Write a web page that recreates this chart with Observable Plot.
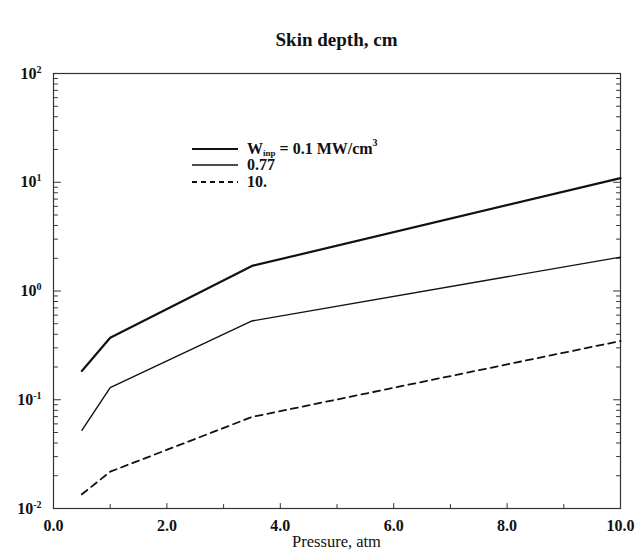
<!DOCTYPE html>
<html><head><meta charset="utf-8">
<script src="https://cdn.jsdelivr.net/npm/d3@7"></script>
<script src="https://cdn.jsdelivr.net/npm/@observablehq/plot@0.6"></script>
<style>
body{margin:0;background:#fff;width:641px;height:553px;overflow:hidden}
#title{height:56px;box-sizing:border-box;padding-top:29px;padding-left:32px;text-align:center;font:bold 19px "Liberation Serif",serif;line-height:22px;color:#111}
</style></head>
<body>
<div id="title">Skin depth, cm</div>
<div id="chart"></div>
<script>
// Data
const pressure = [0.5, 1.0, 3.5, 10];
const depth01  = [0.184, 0.372, 1.70, 10.9];   // W_inp = 0.1 MW/cm^3
const depth077 = [0.0524, 0.129, 0.53, 2.05];  // 0.77
const depth10  = [0.0135, 0.0218, 0.0694, 0.347]; // 10.
const seriesLabels = ["0.1", "0.77", "10."];
const yTicks = [0.01, 0.1, 1, 10, 100];
const yExponents = ["-2", "-1", "0", "1", "2"];
const xTicks = [0, 2, 4, 6, 8, 10];
const xMinorTicks = [1, 3, 5, 7, 9];
const yMinorTicks = [];
for (let e = -2; e < 2; e++) for (let m = 2; m < 10; m++) yMinorTicks.push(+(m * Math.pow(10, e)).toPrecision(3));

const ink = "#111";
const tk = "#333";
const tickShape = {draw(context, l) { context.moveTo(0, 0); context.lineTo(0, -l); }};
const inTicksY = (vals, len, side) => Plot.vector(vals, {
  y: d => d, frameAnchor: side, rotate: side === "left" ? 90 : -90,
  length: len, anchor: "start", shape: tickShape, stroke: tk, strokeWidth: 1
});
const inTicksX = (vals, len) => Plot.vector(vals, {
  x: d => d, frameAnchor: "bottom", rotate: 0,
  length: len, anchor: "start", shape: tickShape, stroke: tk, strokeWidth: 1
});

const plot = Plot.plot({
  width: 641, height: 497,
  marginTop: 17, marginLeft: 53, marginRight: 21, marginBottom: 45,
  style: {fontFamily: '"Liberation Serif", serif', fontSize: "16px", fontWeight: "bold", background: "white", color: ink},
  x: {domain: [0, 10]},
  y: {type: "log", domain: [0.01, 100]},
  marks: [
    Plot.frame({stroke: "#333", strokeWidth: 1.2}),
    Plot.axisY(yTicks, {anchor: "left", tickSize: 0, tickPadding: 12, fontSize: 16, tickFormat: d => "10|" + yExponents[yTicks.indexOf(d)], label: null}),
    Plot.axisX(xTicks, {anchor: "bottom", tickSize: 0, tickPadding: 11, fontSize: 16, tickFormat: d3.format(".1f"), label: null}),
    inTicksY(yTicks, 7, "left"),
    inTicksY(yMinorTicks, 4, "left"),
    inTicksY(yTicks, 7, "right"),
    inTicksY(yMinorTicks, 4, "right"),
    inTicksX(xTicks, 5),
    inTicksX(xMinorTicks, 4),
    Plot.line(depth01, {x: pressure, y: d => d, stroke: ink, strokeWidth: 2.2}),
    Plot.line(depth077, {x: pressure, y: d => d, stroke: ink, strokeWidth: 1.4}),
    Plot.line(depth10, {x: pressure, y: d => d, stroke: ink, strokeWidth: 1.8, strokeDasharray: "7,5"})
  ]
});
document.getElementById("chart").appendChild(plot);

const svg = d3.select(plot);
// superscript exponents on y tick labels
svg.selectAll("text").each(function() {
  const t = this.textContent;
  if (t.startsWith("10|")) {
    const exp = t.slice(3);
    const sel = d3.select(this);
    sel.text("10");
    sel.append("tspan").attr("dy", "-0.6em").attr("font-size", "10px").text(exp);
  }
});

// x axis title
svg.append("text").attr("x", 53 + (620 - 53) / 2).attr("y", 491)
  .attr("text-anchor", "middle").attr("font-family", '"Liberation Serif", serif')
  .attr("font-weight", "normal").attr("font-size", "16.5px").attr("fill", ink).text("Pressure, atm");

// legend inside the plot
const lg = svg.append("g").attr("text-anchor", "start").attr("font-family", '"Liberation Serif", serif').attr("font-weight", "bold").attr("font-size", "16px").attr("fill", ink);
const styles = [{w: 2.2, dash: null}, {w: 1.4, dash: null}, {w: 1.8, dash: "5,4"}];
const rowY = [93, 109, 126];
seriesLabels.forEach((lab, i) => {
  lg.append("line").attr("x1", 192).attr("x2", 238).attr("y1", rowY[i]).attr("y2", rowY[i])
    .attr("stroke", ink).attr("stroke-width", styles[i].w).attr("stroke-dasharray", styles[i].dash);
  const t = lg.append("text").attr("x", 247).attr("y", rowY[i] + 5);
  if (i === 0) {
    t.append("tspan").text("W");
    t.append("tspan").attr("font-size", "9px").attr("dy", "2").text("inp");
    t.append("tspan").attr("dy", "-2").text(" = " + lab + " MW/cm");
    t.append("tspan").attr("font-size", "10px").attr("dy", "-8").text("3");
  } else {
    t.text(lab);
  }
});
</script>
</body></html>
